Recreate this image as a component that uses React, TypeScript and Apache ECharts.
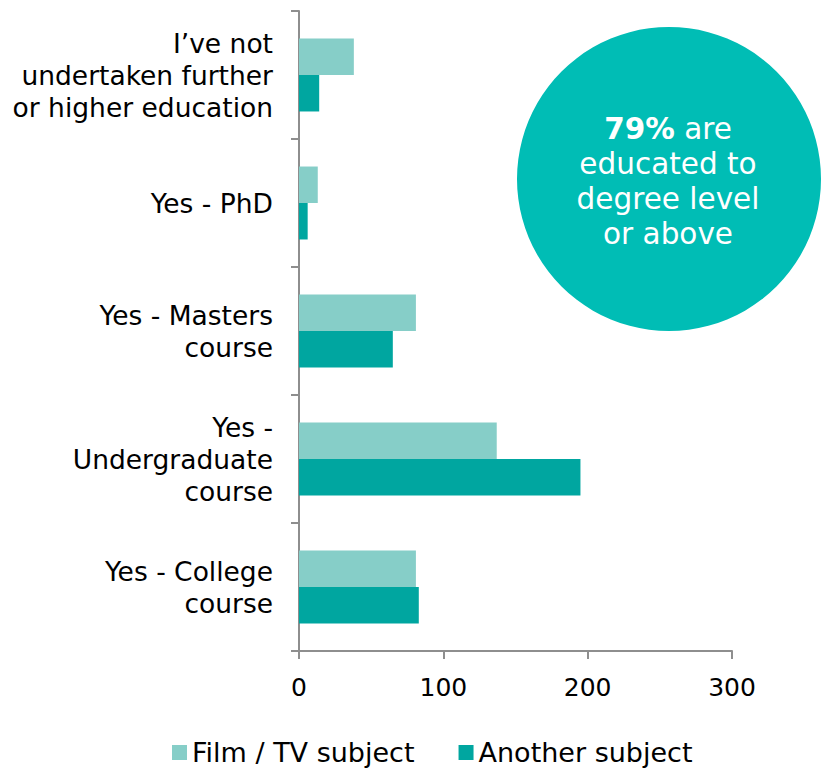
import React, { useEffect, useRef } from "react";
import * as echarts from "echarts";

const categories = [
  "I’ve not\nundertaken further\nor higher education",
  "Yes - PhD",
  "Yes - Masters\ncourse",
  "Yes -\nUndergraduate\ncourse",
  "Yes - College\ncourse",
];
const filmTv = [38, 13, 81, 137, 81];
const another = [14, 6, 65, 195, 83];
const xTicks = [0, 100, 200, 300];
const seriesNames = ["Film / TV subject", "Another subject"];

const FONT = "'DejaVu Sans', Verdana, sans-serif";
const AXIS_COLOR = "#8e8e8e";

export default function App() {
  const ref = useRef<HTMLDivElement>(null);
  useEffect(() => {
    if (!ref.current) return;
    const chart = echarts.init(ref.current, undefined, { renderer: "svg" });
    chart.setOption({
      animation: false,
      textStyle: { fontFamily: FONT },
      grid: { left: 299, top: 11, right: 95, bottom: 121, containLabel: false },
      xAxis: {
        type: "value",
        min: xTicks[0],
        max: xTicks[xTicks.length - 1],
        interval: 100,
        axisLine: { show: true, lineStyle: { color: AXIS_COLOR, width: 2 } },
        axisTick: { show: true, length: 8, lineStyle: { color: AXIS_COLOR, width: 2 } },
        splitLine: { show: false },
        axisLabel: { color: "#000", fontSize: 25, fontFamily: FONT, margin: 24 },
      },
      yAxis: {
        type: "category",
        data: categories,
        inverse: true,
        axisLine: { show: true, lineStyle: { color: AXIS_COLOR, width: 2 } },
        axisTick: { show: true, length: 8, lineStyle: { color: AXIS_COLOR, width: 2 } },
        axisLabel: {
          color: "#000",
          fontSize: 26.5,
          fontFamily: FONT,
          margin: 26,
          lineHeight: 32,
          align: "right",
        },
      },
      legend: {
        top: 739,
        left: 172,
        padding: 0,
        itemWidth: 15,
        itemHeight: 15,
        itemGap: 44,
        icon: "rect",
        textStyle: { color: "#000", fontSize: 27, fontFamily: FONT },
        data: seriesNames,
      },
      series: [
        {
          name: seriesNames[0],
          type: "bar",
          data: filmTv,
          barGap: "0%",
          barCategoryGap: "43%",
          itemStyle: { color: "#86CEC8" },
        },
        {
          name: seriesNames[1],
          type: "bar",
          data: another,
          barGap: "0%",
          barCategoryGap: "43%",
          itemStyle: { color: "#00A6A0" },
        },
      ],
      graphic: [
        {
          type: "circle",
          shape: { cx: 669, cy: 179, r: 152 },
          style: { fill: "#00BDB5" },
          z: 10,
        },
        {
          type: "text",
          x: 668,
          y: 181,
          z: 11,
          style: {
            text: "{b|79%} are\neducated to\ndegree level\nor above",
            fill: "#fff",
            fontSize: 29.5,
            fontFamily: FONT,
            lineHeight: 35,
            align: "center",
            verticalAlign: "middle",
            rich: {
              b: { fontWeight: "bold", fontSize: 29.5, fontFamily: FONT, fill: "#fff", lineHeight: 35 },
            },
          },
        },
      ],
    });
    return () => chart.dispose();
  }, []);
  return (
    <div
      ref={ref}
      style={{ position: "absolute", left: 0, top: 0, width: 827, height: 772 }}
    />
  );
}
